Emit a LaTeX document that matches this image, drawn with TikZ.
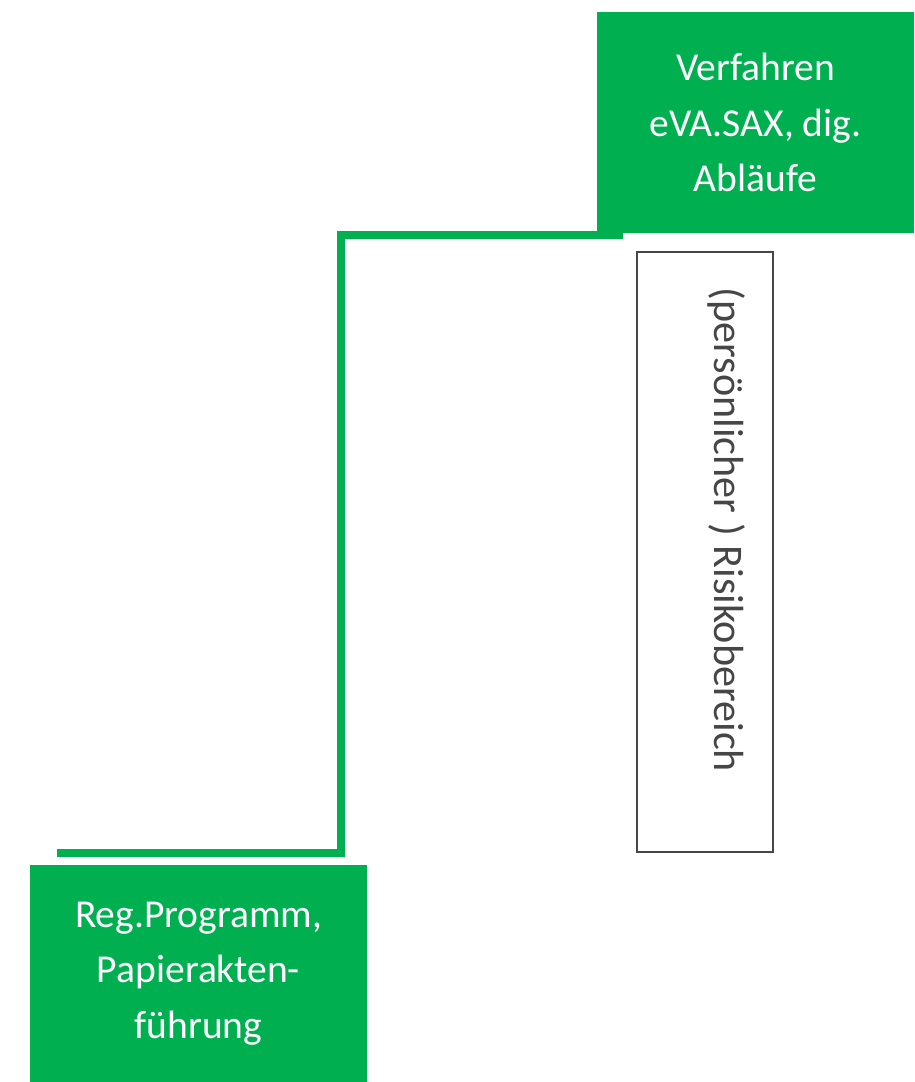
\documentclass[tikz,border=0pt]{standalone}
\usepackage{fontspec}
\setmainfont{Carlito}
\usepackage{tikz}
\definecolor{stufengruen}{RGB}{0,176,80}
\definecolor{randgrau}{RGB}{70,70,70}

\begin{document}
\begin{tikzpicture}[x=0.02cm, y=-0.02cm,
            stufe/.style={fill=stufengruen, text=white, align=center, inner sep=0pt,
                font=\fontsize{22.5}{31.5}\selectfont},
            treppe/.style={draw=stufengruen, line width=4pt}]
            \useasboundingbox (0,0) rectangle (914,1082);
            \node[stufe, minimum width=6.34cm, minimum height=4.42cm] (digital) at (755.5,122.5)
                {Verfahren\\eVA.SAX, dig.\\Abläufe};
            \node[stufe, minimum width=6.74cm, minimum height=4.34cm] (papier) at (198.5,973.5)
                {Reg.Programm,\\Papierakten-\\führung};
            % Risikobereich zwischen den Stufen
            \node[draw=randgrau, line width=1.2pt, minimum width=2.72cm, minimum height=12cm] (risiko) at (705,552) {};
            \node[rotate=-90, text=randgrau, font=\fontsize{24}{28}\selectfont] (risikotext) at (727,530)
                {(persönlicher ) Risikobereich};
            \coordinate (stufeA) at (57,853);
            \coordinate (knick) at (341,544);
            \coordinate (stufeB) at (623,235);
            \draw[treppe] (stufeA) -| (knick) |- (stufeB);
        \end{tikzpicture}
\end{document}
